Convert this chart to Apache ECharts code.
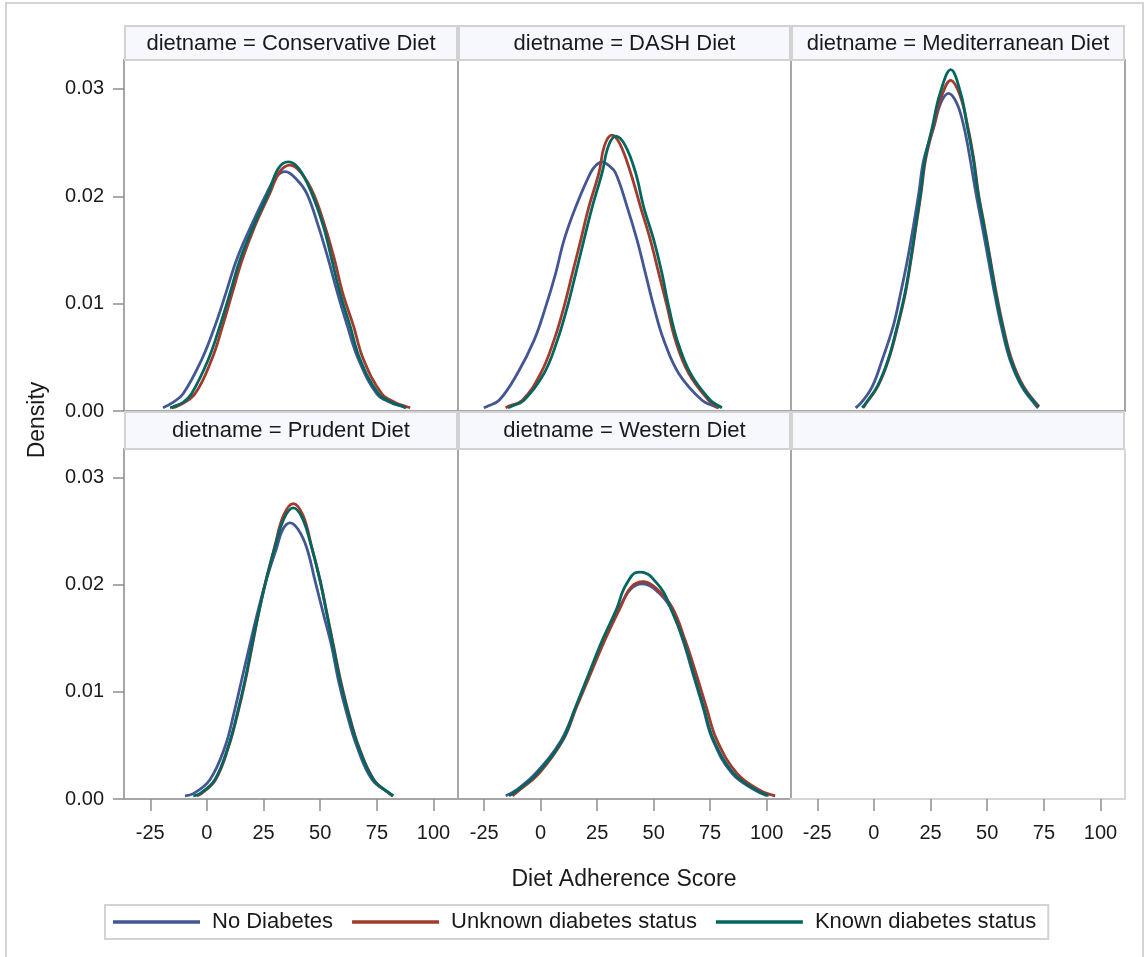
<!DOCTYPE html>
<html>
<head>
<meta charset="utf-8">
<script src="https://cdn.jsdelivr.net/npm/echarts@6/dist/echarts.min.js"></script>
<style>
html,body{margin:0;padding:0;background:#fff;}
#chart{width:1148px;height:957px;}
</style>
</head>
<body>
<div id="chart"></div>
<script>
// ---------- DATA ----------
const dietNames = ['Conservative Diet', 'DASH Diet', 'Mediterranean Diet', 'Prudent Diet', 'Western Diet'];
const groupNames = ['No Diabetes', 'Unknown diabetes status', 'Known diabetes status'];
const xTicks = [-25, 0, 25, 50, 75, 100];
const yTicks = [0, 0.01, 0.02, 0.03];

// Conservative Diet
const consNoDiab = [[-19.4,0.0003],[-15,0.0008],[-10.5,0.0016],[-2.3,0.0048],[3.5,0.0079],[8.4,0.0110],[13.1,0.0141],[19.4,0.0172],[26.4,0.0203],[30.5,0.0218],[34.5,0.0223],[39.5,0.0216],[44.0,0.0203],[49.2,0.0172],[53.6,0.0141],[57.6,0.0110],[62.0,0.0079],[66.9,0.0048],[75.0,0.0016],[81.0,0.0008],[86.7,0.0004],[88.0,0.0003]];
const consUnknown = [[-15.5,0.0003],[-12.5,0.0005],[-5.3,0.0016],[2.1,0.0048],[6.9,0.0079],[11.2,0.0110],[15.6,0.0141],[21.1,0.0172],[27.8,0.0203],[32.2,0.0223],[36.7,0.0229],[41.5,0.0222],[46.9,0.0203],[52.1,0.0172],[56.3,0.0141],[59.9,0.0110],[64.7,0.0079],[69.1,0.0048],[77.2,0.0016],[83.0,0.0008],[88.2,0.0004],[89.7,0.0003]];
const consKnown = [[-16.3,0.0003],[-14.9,0.0004],[-10.5,0.0008],[-6.8,0.0016],[0.6,0.0048],[5.7,0.0079],[10.2,0.0110],[14.6,0.0141],[20.5,0.0172],[27.1,0.0203],[31.5,0.0226],[35.9,0.0232],[40.5,0.0226],[46.2,0.0203],[51.4,0.0172],[55.1,0.0141],[58.7,0.0110],[63.2,0.0079],[67.6,0.0048],[75.7,0.0016],[81.5,0.0008],[86.7,0.0004],[87.7,0.0003]];

// DASH Diet
const dashNoDiab = [[-25.2,0.0003],[-24.0,0.0004],[-18.4,0.0010],[-10.3,0.0035],[-2.9,0.0066],[2.2,0.0097],[6.6,0.0128],[10.3,0.0159],[15.5,0.0190],[22.1,0.0222],[24.5,0.0229],[27.2,0.0232],[30.0,0.0229],[33.1,0.0222],[38.3,0.0190],[42.7,0.0159],[46.4,0.0128],[50.1,0.0097],[54.5,0.0066],[61.1,0.0035],[71.4,0.0010],[77.3,0.0004],[78.5,0.0003]];
const dashUnknown = [[-15.5,0.0003],[-14.7,0.0004],[-8.1,0.0010],[0.0,0.0035],[5.9,0.0066],[10.3,0.0097],[14.0,0.0128],[17.7,0.0159],[21.3,0.0190],[25.8,0.0222],[28.2,0.0247],[31.5,0.0257],[35.0,0.0249],[39.8,0.0222],[44.2,0.0190],[48.6,0.0159],[52.3,0.0128],[56.0,0.0097],[59.6,0.0066],[65.5,0.0035],[74.3,0.0010],[78.0,0.0004],[79.0,0.0003]];
const dashKnown = [[-14.5,0.0003],[-13.3,0.0004],[-7.4,0.0010],[1.5,0.0035],[7.4,0.0066],[11.8,0.0097],[15.5,0.0128],[19.1,0.0159],[22.8,0.0190],[27.2,0.0222],[30.0,0.0247],[33.3,0.0256],[37.5,0.0247],[42.0,0.0222],[45.6,0.0190],[50.1,0.0159],[53.7,0.0128],[56.7,0.0097],[60.4,0.0066],[66.3,0.0035],[75.1,0.0010],[79.5,0.0004],[80.2,0.0003]];

// Mediterranean Diet
const medNoDiab = [[-8.1,0.0003],[-5.5,0.0008],[-0.7,0.0023],[3.7,0.0048],[8.5,0.0079],[11.8,0.0110],[14.8,0.0141],[17.4,0.0172],[19.8,0.0203],[22.0,0.0234],[26.5,0.0265],[29.5,0.0287],[32.9,0.0296],[36.5,0.0287],[39.7,0.0265],[42.5,0.0234],[45.0,0.0203],[47.8,0.0172],[50.5,0.0141],[53.2,0.0110],[56.2,0.0079],[60.0,0.0048],[65.2,0.0023],[71.5,0.0005],[72.5,0.0003]];
const medUnknown = [[-4.7,0.0003],[-3.5,0.0007],[1.7,0.0023],[6.5,0.0048],[10.5,0.0079],[13.9,0.0110],[16.4,0.0141],[18.6,0.0172],[20.8,0.0203],[22.8,0.0234],[26.3,0.0265],[30.0,0.0294],[33.9,0.0308],[38.0,0.0294],[41.4,0.0265],[44.1,0.0234],[46.1,0.0203],[48.8,0.0172],[51.4,0.0141],[54.0,0.0110],[57.0,0.0079],[60.8,0.0048],[66.0,0.0023],[72.9,0.0004]];
const medKnown = [[-5.2,0.0003],[-3.7,0.0007],[1.5,0.0023],[6.3,0.0048],[10.3,0.0079],[13.7,0.0110],[16.2,0.0141],[18.4,0.0172],[20.6,0.0203],[22.5,0.0234],[25.8,0.0265],[29.2,0.0296],[33.9,0.0318],[38.3,0.0296],[41.2,0.0265],[43.9,0.0234],[45.9,0.0203],[48.6,0.0172],[51.2,0.0141],[53.7,0.0110],[56.7,0.0079],[60.4,0.0048],[65.5,0.0023],[71.4,0.0007],[72.5,0.0004]];

// Prudent Diet
const prudNoDiab = [[-9.7,0.0003],[-6.0,0.0005],[1.3,0.0018],[8.0,0.0049],[11.9,0.0080],[15.3,0.0111],[18.7,0.0142],[22.2,0.0173],[26.1,0.0204],[30.8,0.0235],[33.5,0.0252],[36.7,0.0258],[40.2,0.0252],[44.0,0.0235],[47.7,0.0204],[51.4,0.0173],[55.1,0.0142],[58.0,0.0111],[61.7,0.0080],[66.2,0.0049],[72.9,0.0018],[80.8,0.0005],[82.0,0.0003]];
const prudUnknown = [[-4.5,0.0003],[-2.5,0.0005],[3.8,0.0018],[9.6,0.0049],[13.6,0.0080],[17.0,0.0111],[19.9,0.0142],[22.8,0.0173],[26.0,0.0204],[29.8,0.0235],[33.8,0.0265],[38.1,0.0276],[42.4,0.0265],[46.3,0.0235],[50.0,0.0204],[53.0,0.0173],[56.0,0.0142],[59.0,0.0111],[62.6,0.0080],[67.0,0.0049],[73.7,0.0018],[80.5,0.0005],[81.8,0.0003]];
const prudKnown = [[-6.0,0.0003],[-3.1,0.0005],[3.5,0.0018],[9.4,0.0049],[13.4,0.0080],[16.8,0.0111],[19.7,0.0142],[22.7,0.0173],[26.1,0.0204],[30.0,0.0235],[34.0,0.0262],[38.1,0.0272],[42.2,0.0262],[46.2,0.0235],[49.9,0.0204],[52.9,0.0173],[55.8,0.0142],[58.7,0.0111],[62.4,0.0080],[66.8,0.0049],[73.5,0.0018],[80.8,0.0005],[82.3,0.0003]];

// Western Diet
const westNoDiab = [[-15.5,0.0003],[-11.0,0.0008],[-2.2,0.0024],[9.1,0.0055],[15.5,0.0086],[21.6,0.0117],[28.0,0.0148],[35.0,0.0179],[39.8,0.0196],[44.9,0.0201],[50.5,0.0196],[57.4,0.0179],[63.0,0.0148],[67.4,0.0117],[71.8,0.0086],[76.2,0.0055],[84.7,0.0024],[95.0,0.0008],[100.1,0.0003]];
const westUnknown = [[-12.5,0.0003],[-9.6,0.0008],[-0.7,0.0024],[9.9,0.0055],[15.9,0.0086],[22.1,0.0117],[28.3,0.0148],[35.3,0.0179],[40.0,0.0198],[45.6,0.0203],[51.0,0.0197],[58.2,0.0179],[64.0,0.0148],[68.8,0.0117],[73.3,0.0086],[78.0,0.0055],[86.9,0.0024],[97.2,0.0008],[103.8,0.0003]];
const westKnown = [[-14.0,0.0003],[-10.3,0.0008],[-1.5,0.0024],[9.6,0.0055],[15.5,0.0086],[21.3,0.0117],[27.2,0.0148],[33.9,0.0179],[36.1,0.0193],[38.3,0.0202],[41.5,0.0211],[44.2,0.0212],[47.5,0.0210],[50.0,0.0205],[54.5,0.0193],[57.4,0.0179],[63.3,0.0148],[67.7,0.0117],[72.1,0.0086],[76.6,0.0055],[85.4,0.0024],[95.7,0.0008],[100.9,0.0003]];

const curves = [
  [consNoDiab, consUnknown, consKnown],
  [dashNoDiab, dashUnknown, dashKnown],
  [medNoDiab, medUnknown, medKnown],
  [prudNoDiab, prudUnknown, prudKnown],
  [westNoDiab, westUnknown, westKnown]
];

// ---------- STYLE / LAYOUT ----------
const FONT = '"Liberation Sans", Arial, Helvetica, sans-serif';
const colors = ['#445694', '#A23A2E', '#01665E'];
const TXT = '#1a1a1a';
const cells = [
  {left:124, top:60,  width:334, height:351},
  {left:458, top:60,  width:333, height:351},
  {left:791, top:60,  width:334, height:351},
  {left:124, top:449, width:334, height:350},
  {left:458, top:449, width:333, height:350},
  {left:791, top:449, width:334, height:350}
];
const XMIN = -36.6, XMAX = 110.8, YMAX = 0.0327;

const grids = [], xAxes = [], yAxes = [];
cells.forEach((c, i) => {
  const empty = i === 5;
  const bottomRow = i >= 3;
  const leftCol = i === 0 || i === 3;
  grids.push({left:c.left, top:c.top, width:c.width, height:c.height,
    show: !empty, borderColor:'#a6a6a6', borderWidth:2, backgroundColor:'transparent', containLabel:false});
  xAxes.push({gridIndex:i, type:'value', min:XMIN, max:XMAX, position:'bottom',
    splitLine:{show:false},
    axisLine:{show: empty, onZero:false, lineStyle:{color:'#d6d6d6', width:2}},
    axisTick:{show: bottomRow, length:12, customValues:xTicks, lineStyle:{color:'#8f8f8f', width:1.5}},
    axisLabel:{show: bottomRow, customValues:xTicks, margin:24, fontSize:20, color:TXT, fontFamily:FONT}
  });
  yAxes.push({gridIndex:i, type:'value', min:0, max:YMAX, position:'left',
    splitLine:{show:false},
    axisLine:{show:false, onZero:false},
    axisTick:{show: leftCol, length:11, customValues:yTicks, lineStyle:{color:'#8f8f8f', width:1.5}},
    axisLabel:{show: leftCol, customValues:yTicks, margin:20, fontSize:20, color:TXT, fontFamily:FONT,
      formatter: v => v.toFixed(2)}
  });
});

const series = [];
curves.forEach((set, d) => {
  set.forEach((pts, g) => {
    series.push({
      type:'line', name:groupNames[g], xAxisIndex:d, yAxisIndex:d,
      data:pts, symbol:'none', showSymbol:false, smooth:0.4,
      lineStyle:{color:colors[g], width:2.8}, itemStyle:{color:colors[g]},
      z: 2 + g, silent:true
    });
  });
});

// header strips
const graphics = [];
graphics.push({type:'rect', shape:{x:6, y:3, width:1137, height:970}, style:{fill:'none', stroke:'#d4d4d4', lineWidth:2}, z:0, silent:true});
const stripRows = [{y:25, h:35}, {y:411, h:38}];
const stripLabels = [
  ['dietname = ' + dietNames[0], 'dietname = ' + dietNames[1], 'dietname = ' + dietNames[2]],
  ['dietname = ' + dietNames[3], 'dietname = ' + dietNames[4], '']
];
stripRows.forEach((r, ri) => {
  [0,1,2].forEach(ci => {
    const c = cells[ri*3 + ci];
    graphics.push({type:'rect', shape:{x:c.left+1, y:r.y+1, width:c.width-2, height:r.h-1},
      style:{fill:'#F6F8FD', stroke:'#d2d2d2', lineWidth:2}, z:1, silent:true});
    if (stripLabels[ri][ci]) {
      graphics.push({type:'text', x:c.left + c.width/2, y:r.y + r.h/2 + 1,
        style:{text:stripLabels[ri][ci], font:'22px ' + FONT, fill:TXT, textAlign:'center', textVerticalAlign:'middle'}, z:3, silent:true});
    }
  });
});
// empty cell right border
graphics.push({type:'line', shape:{x1:1125, y1:449, x2:1125, y2:799}, style:{stroke:'#d6d6d6', lineWidth:2}, z:1, silent:true});
// axis titles
graphics.push({type:'text', x:38, y:420, rotation:Math.PI/2,
  style:{text:'Density', font:'23px ' + FONT, fill:TXT, textAlign:'center', textVerticalAlign:'middle'}, silent:true});
graphics.push({type:'text', x:624, y:880,
  style:{text:'Diet Adherence Score', font:'23px ' + FONT, fill:TXT, textAlign:'center', textVerticalAlign:'middle'}, silent:true});

const chart = echarts.init(document.getElementById('chart'), null, {renderer:'canvas'});
chart.setOption({
  animation:false,
  backgroundColor:'#fff',
  grid:grids, xAxis:xAxes, yAxis:yAxes, series:series,
  legend:{left:105, top:905, orient:'horizontal', padding:[6,12,6,8],
    itemWidth:87, itemHeight:3.5, itemGap:19,
    borderColor:'#d3d3d3', borderWidth:2,
    selectedMode:false,
    data:groupNames.map((n,i) => ({name:n, icon:'rect', itemStyle:{color:colors[i]}})),
    textStyle:{fontSize:22, color:TXT, fontFamily:FONT, padding:[0,0,0,7]}
  },
  graphic:graphics
});
</script>
</body>
</html>
